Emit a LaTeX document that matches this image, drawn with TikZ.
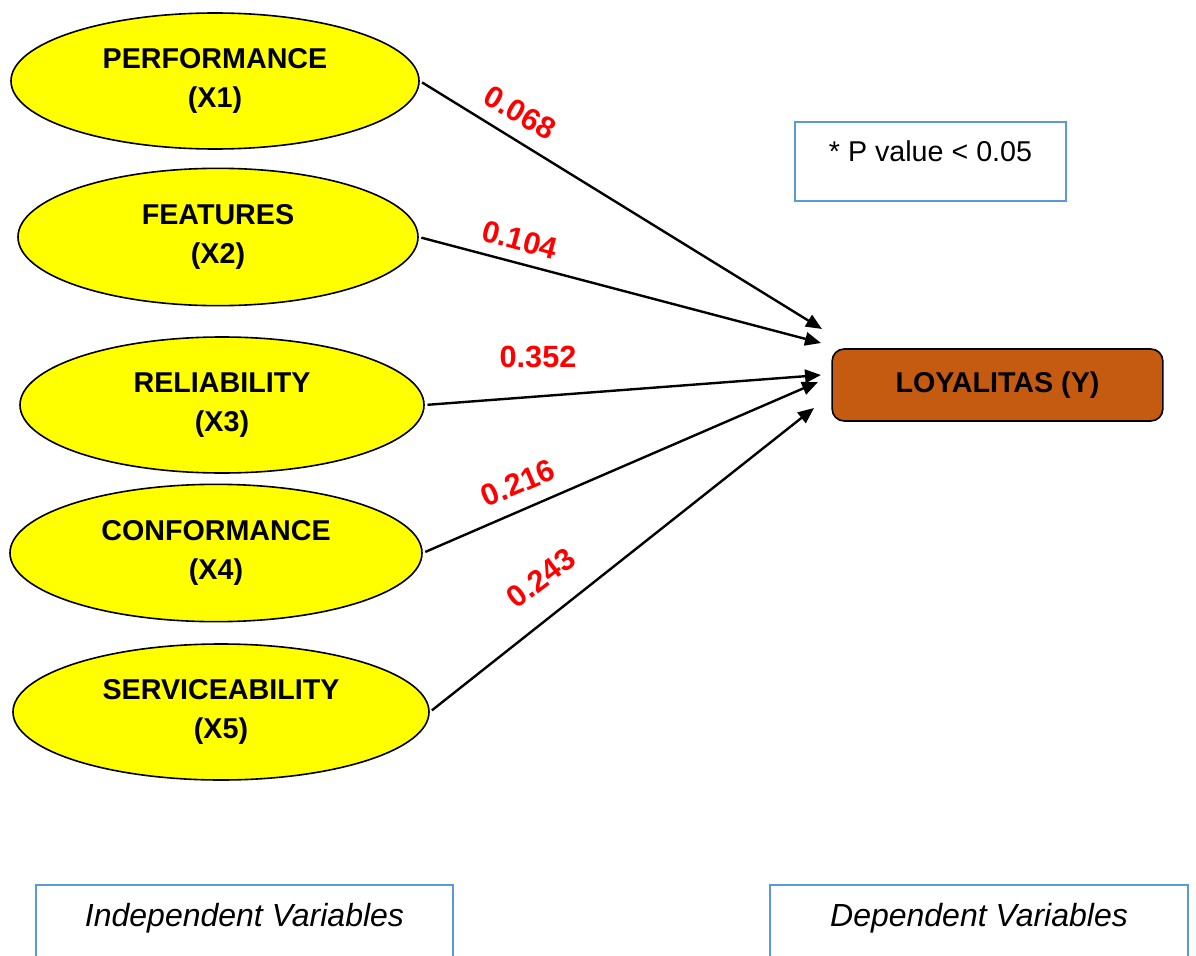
\documentclass[tikz,border=0pt]{standalone}
\usepackage{fontspec}
\setmainfont{Liberation Sans}
\usetikzlibrary{arrows.meta,shapes.geometric}
\definecolor{varyellow}{HTML}{FFFF00}
\definecolor{loyorange}{HTML}{C55A11}
\definecolor{labred}{HTML}{FF0000}
\definecolor{boxblue}{HTML}{5B9BD5}
\tikzset{
  varell/.style={ellipse, draw=black, line width=1.2pt, fill=varyellow, inner sep=0pt,
    align=center, font=\bfseries\fontsize{21.5}{29}\selectfont},
  depbox/.style={rectangle, rounded corners=9pt, draw=black, line width=1.2pt, fill=loyorange,
    minimum width=248pt, minimum height=54pt, font=\bfseries\fontsize{21.5}{26}\selectfont},
  notebox/.style={rectangle, draw=boxblue, line width=1.5pt, fill=white, inner sep=0pt},
  coef/.style={text=labred, font=\bfseries\fontsize{23}{27}\selectfont, inner sep=0pt},
  conn/.style={draw=black, line width=1.8pt, -{Triangle[length=12pt,width=10pt]}, shorten <=2pt},
}
\begin{document}
\begin{tikzpicture}[x=0.75pt,y=-0.75pt]
\useasboundingbox (0,0) rectangle (1196,956);

\node[varell, minimum width=306pt, minimum height=102pt] (E1) at (215,81) {PERFORMANCE\\(X1)};
\node[varell, minimum width=300pt, minimum height=103pt] (E2) at (218,237) {FEATURES\\(X2)};
\node[varell, minimum width=303pt, minimum height=102pt] (E3) at (222,405) {RELIABILITY\\(X3)};
\node[varell, minimum width=309pt, minimum height=103pt] (E4) at (216,553) {CONFORMANCE\\(X4)};
\node[varell, minimum width=312pt, minimum height=102pt] (E5) at (221,712) {SERVICEABILITY\\(X5)};

\node[depbox] (Y) at (997.5,385) {LOYALITAS (Y)};

\node[notebox, minimum width=203pt, minimum height=59pt, text height=15.4pt, text depth=15.8pt,
  font=\fontsize{21.5}{26}\selectfont] (P) at (930.5,161.5) {* P value < 0.05};

\node[notebox, anchor=north, minimum width=313pt, inner ysep=14pt, text height=17pt, text depth=60pt,
  font=\itshape\fontsize{24}{28}\selectfont] (IV) at (244.5,884) {Independent Variables};
\node[notebox, anchor=north, minimum width=313pt, inner ysep=14pt, text height=17pt, text depth=60pt,
  font=\itshape\fontsize{24}{28}\selectfont] (DV) at (979,884) {Dependent Variables};

\coordinate (t1) at (822,329);
\coordinate (t2) at (821,343);
\coordinate (t3) at (821,375);
\coordinate (t4) at (818,382);
\coordinate (t5) at (814,408);

\draw[conn] (E1.east) -- (t1);
\draw[conn] (E2.east) -- (t2);
\draw[conn] (E3.east) -- (t3);
\draw[conn] (E4.east) -- (t4);
\draw[conn] (E5.east) -- (t5);

\node[coef, rotate=-30] (c1) at (520,113) {0.068};
\node[coef, rotate=-15] (c2) at (520,240) {0.104};
\node[coef] (c3) at (538,357) {0.352};
\node[coef, rotate=23] (c4) at (518,483) {0.216};
\node[coef, rotate=37] (c5) at (541,578) {0.243};
\end{tikzpicture}
\end{document}
